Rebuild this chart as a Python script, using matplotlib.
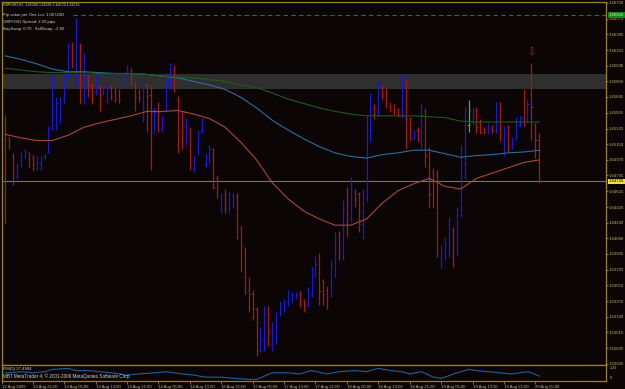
import numpy as np
import matplotlib.pyplot as plt
import matplotlib.transforms as mtransforms

# ---- hourly GBPUSD bars (12 Aug 14:00 .. 20 Aug 06:00) ----
opens = [
    1.6537, 1.6522, 1.6503, 1.6479, 1.6492, 1.6501, 1.6505, 1.6500, 1.6492, 1.6493,
    1.6500, 1.6506, 1.6534, 1.6537, 1.6545, 1.6565, 1.6594, 1.6627, 1.6599, 1.6627,
    1.6571, 1.6590, 1.6582, 1.6574, 1.6579, 1.6573, 1.6565, 1.6579, 1.6574, 1.6571,
    1.6582, 1.6588, 1.6599, 1.6582, 1.6574, 1.6545, 1.6582, 1.6571, 1.6537, 1.6556,
    1.6537, 1.6560, 1.6588, 1.6599, 1.6565, 1.6531, 1.6520, 1.6531, 1.6488, 1.6509,
    1.6530, 1.6492, 1.6500, 1.6509, 1.6477, 1.6441, 1.6458, 1.6443, 1.6446, 1.6456,
    1.6421, 1.6396, 1.6350, 1.6345, 1.6328, 1.6282, 1.6282, 1.6328, 1.6288, 1.6294,
    1.6322, 1.6328, 1.6336, 1.6339, 1.6341, 1.6345, 1.6337, 1.6333, 1.6345, 1.6367,
    1.6387, 1.6360, 1.6350, 1.6345, 1.6367, 1.6413, 1.6390, 1.6464, 1.6432, 1.6461,
    1.6458, 1.6424, 1.6454, 1.6531, 1.6557, 1.6552, 1.6579, 1.6574, 1.6561, 1.6558,
    1.6555, 1.6548, 1.6586, 1.6545, 1.6522, 1.6531, 1.6520, 1.6552, 1.6509, 1.6484,
    1.6480, 1.6387, 1.6390, 1.6396, 1.6416, 1.6396, 1.6435, 1.6492, 1.6537, 1.6545,
    1.6554, 1.6540, 1.6532, 1.6528, 1.6536, 1.6531, 1.6556, 1.6509, 1.6534, 1.6511,
    1.6522, 1.6537, 1.6545, 1.6543, 1.6571, 1.6537, 1.6520,
]
highs = [
    1.6548, 1.6523, 1.6505, 1.6494, 1.6506, 1.6509, 1.6506, 1.6503, 1.6502, 1.6501,
    1.6505, 1.6535, 1.6594, 1.6568, 1.6568, 1.6597, 1.6630, 1.6631, 1.6658, 1.6630,
    1.6618, 1.6594, 1.6584, 1.6594, 1.6582, 1.6582, 1.6584, 1.6582, 1.6579, 1.6577,
    1.6597, 1.6605, 1.6601, 1.6586, 1.6577, 1.6588, 1.6584, 1.6582, 1.6557, 1.6563,
    1.6548, 1.6596, 1.6607, 1.6605, 1.6569, 1.6552, 1.6545, 1.6534, 1.6503, 1.6531,
    1.6545, 1.6505, 1.6514, 1.6511, 1.6480, 1.6460, 1.6464, 1.6461, 1.6460, 1.6460,
    1.6422, 1.6398, 1.6364, 1.6350, 1.6330, 1.6307, 1.6331, 1.6331, 1.6313, 1.6324,
    1.6337, 1.6339, 1.6350, 1.6347, 1.6347, 1.6348, 1.6339, 1.6353, 1.6376, 1.6388,
    1.6392, 1.6362, 1.6354, 1.6384, 1.6415, 1.6416, 1.6452, 1.6466, 1.6478, 1.6464,
    1.6461, 1.6464, 1.6548, 1.6573, 1.6560, 1.6586, 1.6582, 1.6579, 1.6562, 1.6560,
    1.6556, 1.6594, 1.6588, 1.6546, 1.6531, 1.6534, 1.6560, 1.6556, 1.6512, 1.6488,
    1.6486, 1.6401, 1.6410, 1.6432, 1.6421, 1.6444, 1.6514, 1.6557, 1.6565, 1.6557,
    1.6557, 1.6543, 1.6534, 1.6539, 1.6537, 1.6563, 1.6563, 1.6535, 1.6537, 1.6523,
    1.6546, 1.6548, 1.6577, 1.6565, 1.6607, 1.6539, 1.6528,
]
lows = [
    1.6426, 1.6509, 1.6469, 1.6475, 1.6489, 1.6499, 1.6488, 1.6484, 1.6486, 1.6486,
    1.6497, 1.6505, 1.6531, 1.6531, 1.6539, 1.6562, 1.6588, 1.6601, 1.6580, 1.6560,
    1.6560, 1.6568, 1.6560, 1.6571, 1.6552, 1.6571, 1.6560, 1.6565, 1.6563, 1.6562,
    1.6580, 1.6584, 1.6582, 1.6552, 1.6563, 1.6540, 1.6529, 1.6486, 1.6528, 1.6529,
    1.6529, 1.6552, 1.6579, 1.6574, 1.6505, 1.6509, 1.6514, 1.6486, 1.6483, 1.6503,
    1.6528, 1.6488, 1.6494, 1.6464, 1.6454, 1.6437, 1.6437, 1.6437, 1.6443, 1.6407,
    1.6370, 1.6345, 1.6325, 1.6316, 1.6275, 1.6279, 1.6280, 1.6286, 1.6280, 1.6288,
    1.6320, 1.6324, 1.6331, 1.6336, 1.6339, 1.6330, 1.6324, 1.6331, 1.6342, 1.6364,
    1.6333, 1.6333, 1.6328, 1.6342, 1.6364, 1.6384, 1.6384, 1.6410, 1.6427, 1.6444,
    1.6415, 1.6407, 1.6449, 1.6517, 1.6543, 1.6546, 1.6565, 1.6556, 1.6551, 1.6548,
    1.6546, 1.6545, 1.6509, 1.6518, 1.6520, 1.6517, 1.6509, 1.6489, 1.6443, 1.6443,
    1.6387, 1.6375, 1.6384, 1.6387, 1.6376, 1.6388, 1.6432, 1.6475, 1.6529, 1.6537,
    1.6528, 1.6526, 1.6526, 1.6526, 1.6528, 1.6528, 1.6518, 1.6501, 1.6506, 1.6509,
    1.6520, 1.6534, 1.6535, 1.6539, 1.6520, 1.6499, 1.6471,
]
closes = [
    1.6520, 1.6513, 1.6484, 1.6489, 1.6501, 1.6506, 1.6492, 1.6492, 1.6500, 1.6500,
    1.6503, 1.6531, 1.6588, 1.6561, 1.6563, 1.6590, 1.6622, 1.6613, 1.6639, 1.6611,
    1.6611, 1.6582, 1.6571, 1.6588, 1.6565, 1.6579, 1.6579, 1.6568, 1.6566, 1.6565,
    1.6590, 1.6599, 1.6586, 1.6568, 1.6568, 1.6574, 1.6569, 1.6551, 1.6551, 1.6551,
    1.6545, 1.6588, 1.6599, 1.6580, 1.6529, 1.6529, 1.6537, 1.6499, 1.6500, 1.6528,
    1.6534, 1.6503, 1.6509, 1.6466, 1.6466, 1.6457, 1.6441, 1.6458, 1.6454, 1.6422,
    1.6399, 1.6346, 1.6345, 1.6328, 1.6280, 1.6294, 1.6322, 1.6302, 1.6305, 1.6316,
    1.6333, 1.6336, 1.6347, 1.6344, 1.6345, 1.6333, 1.6328, 1.6348, 1.6367, 1.6379,
    1.6348, 1.6345, 1.6341, 1.6379, 1.6409, 1.6396, 1.6441, 1.6430, 1.6469, 1.6452,
    1.6439, 1.6458, 1.6531, 1.6554, 1.6548, 1.6579, 1.6571, 1.6561, 1.6556, 1.6554,
    1.6548, 1.6588, 1.6545, 1.6522, 1.6528, 1.6520, 1.6548, 1.6503, 1.6458, 1.6458,
    1.6390, 1.6396, 1.6401, 1.6407, 1.6401, 1.6435, 1.6497, 1.6554, 1.6554, 1.6552,
    1.6534, 1.6529, 1.6528, 1.6536, 1.6530, 1.6554, 1.6526, 1.6531, 1.6511, 1.6520,
    1.6540, 1.6545, 1.6537, 1.6560, 1.6557, 1.6520, 1.64726,
]
marked_bar = 118          # bar drawn in green
arrow_bar, arrow_price = 134, 1.6619

# moving averages, read every 4th bar
ma_step = 4
ma_blue = [
    1.6615, 1.6611, 1.6606, 1.6600, 1.6597, 1.6597, 1.6596, 1.6595, 1.6595, 1.6594,
    1.6592, 1.6590, 1.6586, 1.6582, 1.6577, 1.6568, 1.6556, 1.6542, 1.6531, 1.6521,
    1.6512, 1.6505, 1.6501, 1.6499, 1.6503, 1.6505, 1.6508, 1.6508, 1.6504, 1.6500,
    1.6502, 1.6503, 1.6505, 1.6506, 1.6508,
]
ma_green = [
    1.6601, 1.6599, 1.6597, 1.6596, 1.6596, 1.6596, 1.6595, 1.6595, 1.6595, 1.6594,
    1.6592, 1.6591, 1.6590, 1.6588, 1.6586, 1.6582, 1.6579, 1.6573, 1.6566, 1.6561,
    1.6556, 1.6552, 1.6549, 1.6547, 1.6547, 1.6547, 1.6547, 1.6546, 1.6545, 1.6541,
    1.6540, 1.6540, 1.6540, 1.6540, 1.6540,
]
ma_red = [
    1.6526, 1.6522, 1.6519, 1.6519, 1.6525, 1.6534, 1.6539, 1.6543, 1.6547, 1.6552,
    1.6552, 1.6553, 1.6549, 1.6544, 1.6534, 1.6517, 1.6497, 1.6471, 1.6453, 1.6439,
    1.6430, 1.6423, 1.6423, 1.6430, 1.6448, 1.6462, 1.6470, 1.6476, 1.6467, 1.6464,
    1.6476, 1.6482, 1.6488, 1.6494, 1.6497,
]

band_low, band_high = 1.6577, 1.6595
bid = 1.64726
ask_line = 1.66610

rsi_bars = [0, 1, 4, 7, 10, 12, 16, 18, 21, 24, 27, 31, 34, 38, 41, 45, 48, 51, 55, 58,
            62, 64, 66, 68, 72, 75, 78, 82, 85, 89, 92, 95, 98, 101, 103, 106, 109, 111,
            112, 115, 118, 120, 123, 126, 129, 133, 134, 136]
rsi_vals = [48, 48, 55, 48, 55, 69, 76, 62, 62, 55, 48, 34, 41, 48, 55, 41, 34, 21, 21, 14,
            7, 7, 28, 48, 48, 41, 62, 41, 55, 62, 55, 76, 62, 55, 41, 55, 21, 14,
            21, 48, 69, 62, 55, 48, 41, 55, 48, 27.49]

price_ticks = [1.66750, 1.66570, 1.66395, 1.66215, 1.66040, 1.65860, 1.65685, 1.65505,
               1.65325, 1.65150, 1.64970, 1.64795, 1.64615, 1.64435, 1.64260, 1.64080,
               1.63905, 1.63725, 1.63550, 1.63370, 1.63190, 1.63015, 1.62835, 1.62660]
time_bars = [-0.8, 7, 15, 23, 31, 39, 47, 55, 63, 71, 79, 87, 95, 103, 111, 119, 127, 135]
time_labels = ['12 Aug 2009', '12 Aug 21:00', '13 Aug 05:00', '13 Aug 13:00', '13 Aug 21:00',
               '14 Aug 05:00', '14 Aug 13:00', '16 Aug 21:00', '17 Aug 05:00', '17 Aug 13:00',
               '17 Aug 21:00', '18 Aug 05:00', '18 Aug 13:00', '18 Aug 21:00', '19 Aug 05:00',
               '19 Aug 13:00', '19 Aug 21:00', '20 Aug 05:00']

# ---- style ----
bg = '#0b0505'
frame = '#9a8618'
label_col = '#bfb27a'
txt_col = '#d2d2d2'
up_col, dn_col, mark_col = '#1a1ad2', '#a21a1a', '#22c822'
plt.rcParams['font.family'] = ['Liberation Sans', 'DejaVu Sans']
fs = 3.1

W, H = 625, 389
fig = plt.figure(figsize=(W / 100, H / 100), dpi=100, facecolor=bg)


def px_axes(x0, y0, x1, y1):
    return fig.add_axes([x0 / W, 1 - y1 / H, (x1 - x0) / W, (y1 - y0) / H], facecolor=bg)


ax = px_axes(2, 2, 606, 364.5)
ax2 = px_axes(2, 364.5, 606, 380.5)

o, h, l, c = map(np.array, (opens, highs, lows, closes))
x = np.arange(len(c))
cols = np.where(c >= o, up_col, dn_col).astype(object)
cols[marked_bar] = mark_col

ax.axhspan(band_low, band_high, color='#2f2f2f', lw=0, zorder=0)
ax.axhline(bid, color='#5a7a9c', lw=0.8, zorder=1)
ax.axhline(ask_line, xmin=0.118, color='#1c7a1c', lw=0.8, ls=(0, (4, 3)), zorder=1)

ax.vlines(x, l, h, colors=list(cols), lw=0.9, zorder=2)
ax.hlines(o, x - 0.3, x, colors=list(cols), lw=0.7, zorder=2)
ax.hlines(c, x, x + 0.3, colors=list(cols), lw=0.7, zorder=2)

ma_x = np.arange(len(ma_blue)) * ma_step
ax.plot(ma_x, ma_blue, color='#2e6e9e', lw=0.8, zorder=3)
ax.plot(ma_x, ma_green, color='#1c5c1c', lw=0.8, zorder=3)
ax.plot(ma_x, ma_red, color='#a84a30', lw=0.8, zorder=3)

ax.text(arrow_bar, arrow_price, '\u21e9', color='#c02020', fontsize=7,
        family='DejaVu Sans', ha='center', va='center', zorder=4)

ax.set_xlim(-0.84, 153)
ax.set_ylim(1.62650, 1.66761)
ax.set_xticks([])
ax.yaxis.tick_right()
ax.set_yticks(price_ticks)
ax.set_yticklabels(['%.5f' % v for v in price_ticks])
ax.tick_params(axis='y', colors=frame, labelcolor=label_col, length=1.5, width=0.6,
               pad=0.6, labelsize=fs)

tr = mtransforms.blended_transform_factory(ax.transAxes, ax.transData)
ax.text(1.004, bid, '%.5f' % bid, transform=tr, fontsize=fs, color='black', va='center',
        ha='left', bbox=dict(boxstyle='square,pad=0.2', fc='#ece030', ec='none'), zorder=6,
        clip_on=False)
ax.text(1.004, ask_line, '%.5f' % ask_line, transform=tr, fontsize=fs, color='#e8e8e8',
        va='center', ha='left', bbox=dict(boxstyle='square,pad=0.2', fc='#138a13', ec='none'),
        zorder=6, clip_on=False)

info = ['Pip value per One Lot: 1.00 USD', 'GBPUSD Spread: 2.20 pips',
        'BuySwap: 0.70   SellSwap: -2.60']
ax.text(0.002, 0.992, 'GBPUSD,H1  1.65280 1.65285 1.64720 1.64726', transform=ax.transAxes,
        fontsize=2.5, color=txt_col, va='center', ha='left')
for k, line in enumerate(info):
    ax.text(0.002, 0.964 - k * 0.0195, line, transform=ax.transAxes, fontsize=fs,
            color=txt_col, va='center', ha='left', zorder=5,
            bbox=dict(boxstyle='square,pad=0.1', fc=bg, ec='none') if k == 0 else None)

# ---- RSI window ----
ax2.plot(rsi_bars, rsi_vals, color='#1f5f9f', lw=0.8)
ax2.set_xlim(-0.84, 153)
ax2.set_ylim(0, 100)
ax2.set_yticks([])
ax2.set_xticks(time_bars)
ax2.set_xticklabels(time_labels, ha='left')
ax2.tick_params(axis='x', colors=frame, labelcolor=label_col, length=2, width=0.6,
                pad=1.2, labelsize=fs)
tr2 = mtransforms.blended_transform_factory(ax2.transAxes, ax2.transData)
ax2.text(1.006, 92, '100', transform=tr2, fontsize=fs, color=label_col, va='top')
ax2.text(1.006, 2, '0', transform=tr2, fontsize=fs, color=label_col, va='bottom')
ax2.text(0.002, 0.72, 'RSI(5) 27.4904', transform=ax2.transAxes, fontsize=fs,
         color=txt_col, va='center')
ax2.text(0.002, 0.3, 'MBT MetaTrader 4, \u00a9 2001-2009 MetaQuotes Software Corp.',
         transform=ax2.transAxes, fontsize=3.3, color=txt_col, va='center')

for a in (ax, ax2):
    for s in a.spines.values():
        s.set_color(frame)
        s.set_linewidth(0.9)

fig.savefig('out.png', dpi=100, facecolor=bg)
